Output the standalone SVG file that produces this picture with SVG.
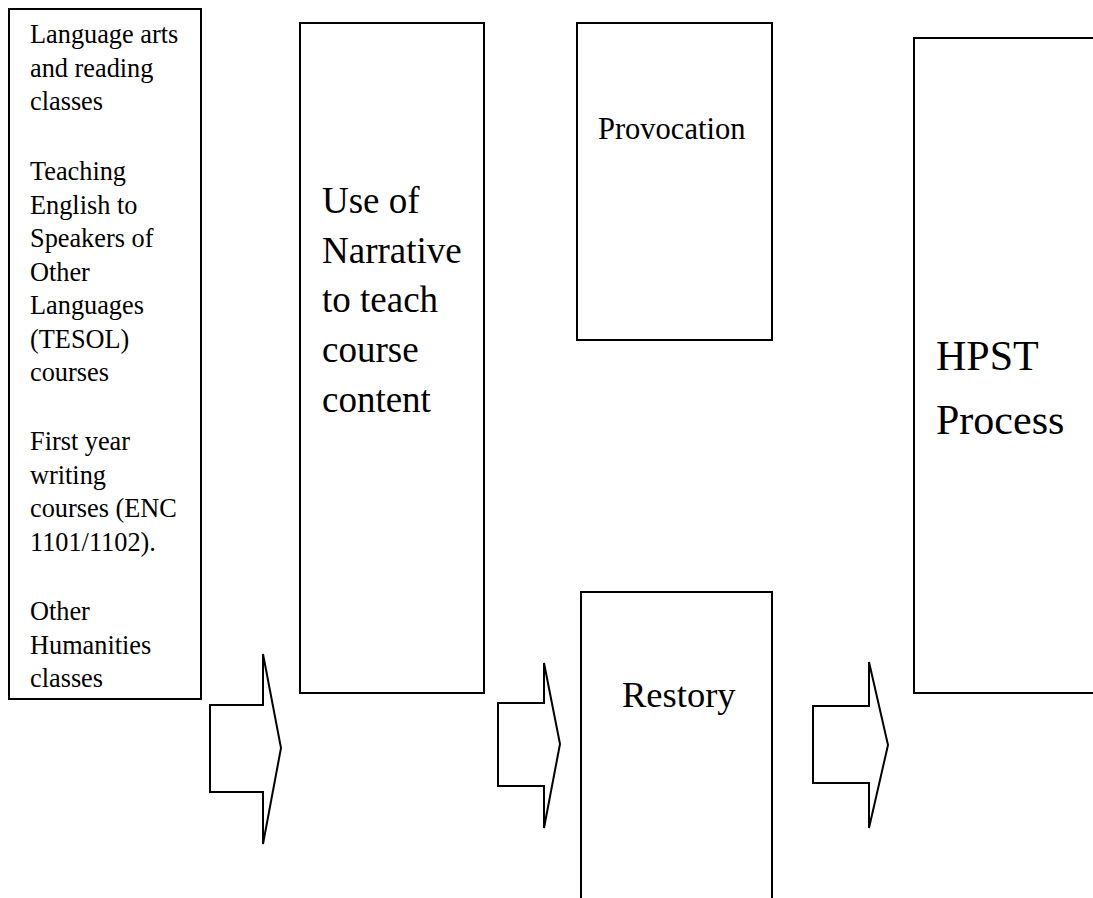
<svg xmlns="http://www.w3.org/2000/svg" width="1093" height="898" viewBox="0 0 1093 898">
<style>
.box{fill:#fff;stroke:#000;stroke-width:2}
.arrow{fill:#fff;stroke:#000;stroke-width:2;stroke-linejoin:miter}
text{font-family:"Liberation Serif","Times New Roman",serif;fill:#000}
.s{font-size:26.3px}
.m{font-size:37px}
</style>
<rect width="1093" height="898" fill="#fff"/>
<g id="courses">
<rect class="box" x="9" y="9" width="192" height="690"/>
<text class="s" x="30" y="43">Language arts</text>
<text class="s" x="30" y="76.5">and reading</text>
<text class="s" x="30" y="110">classes</text>
<text class="s" x="30" y="180">Teaching</text>
<text class="s" x="30" y="213.5">English to</text>
<text class="s" x="30" y="247">Speakers of</text>
<text class="s" x="30" y="280.5">Other</text>
<text class="s" x="30" y="314">Languages</text>
<text class="s" x="30" y="347.5">(TESOL)</text>
<text class="s" x="30" y="381">courses</text>
<text class="s" x="30" y="450">First year</text>
<text class="s" x="30" y="483.5">writing</text>
<text class="s" x="30" y="517">courses (ENC</text>
<text class="s" x="30" y="550.5">1101/1102).</text>
<text class="s" x="30" y="620">Other</text>
<text class="s" x="30" y="653.5">Humanities</text>
<text class="s" x="30" y="687">classes</text>
</g>
<g id="narrative">
<rect class="box" x="300" y="23" width="184" height="670"/>
<text class="m" x="322" y="213">Use of</text>
<text class="m" x="322" y="263">Narrative</text>
<text class="m" x="322" y="312">to teach</text>
<text class="m" x="322" y="362">course</text>
<text class="m" x="322" y="412">content</text>
</g>
<g id="provocation">
<rect class="box" x="577" y="23" width="195" height="317"/>
<text x="598" y="139" font-size="30.5">Provocation</text>
</g>
<g id="restory">
<rect class="box" x="581" y="592" width="191" height="312"/>
<text x="622" y="707" font-size="36.5">Restory</text>
</g>
<g id="hpst">
<rect class="box" x="914" y="38" width="190" height="655"/>
<text x="936" y="370" font-size="42">HPST</text>
<text x="936" y="434" font-size="42">Process</text>
</g>
<g id="connectors">
<path class="arrow" d="M210,705 H263 V654 L281,748 L263,844 V792 H210 Z"/>
<path class="arrow" d="M498,703 H544 V663 L560,744 L544,828 V786 H498 Z"/>
<path class="arrow" d="M813,706 H869 V662 L888,745 L869,828 V783 H813 Z"/>
</g>
</svg>
